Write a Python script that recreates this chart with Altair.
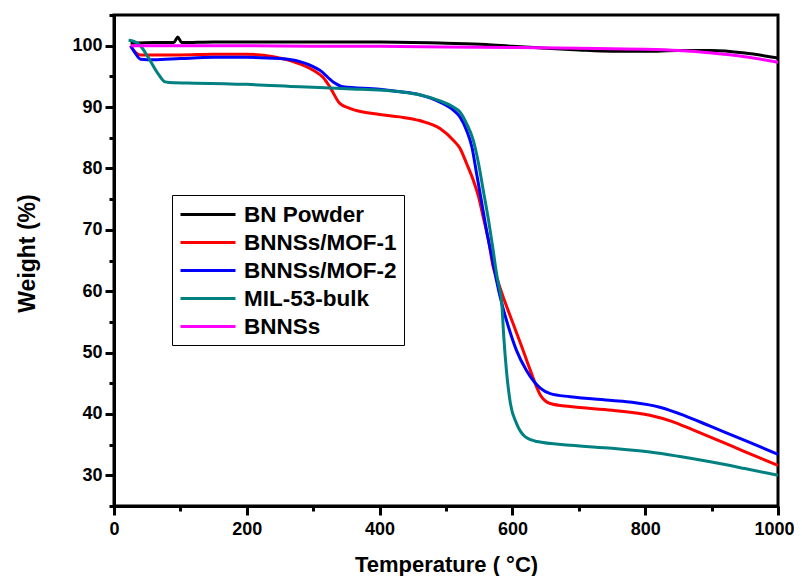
import altair as alt
import pandas as pd

series = ["BN Powder", "BNNSs/MOF-1", "BNNSs/MOF-2", "MIL-53-bulk", "BNNSs"]
colors = ["#000000", "#ff0000", "#0000ff", "#008080", "#ff00ff"]

bn_T = [25, 60, 90, 96, 102, 150, 200, 300, 400, 500, 560, 600, 650, 700, 750, 800, 850, 900, 950, 1000]
bn_W = [100.4, 100.5, 100.5, 101.4, 100.5, 100.6, 100.6, 100.6, 100.6, 100.4, 100.2, 99.9, 99.6, 99.3, 99.1, 99.1, 99.2, 99.2, 98.8, 98.0]

red_T = [25, 30, 40, 60, 100, 150, 200, 240, 270, 300, 315, 325, 340, 355, 400, 430, 460, 491, 511, 521,
         531, 541, 549, 556, 564, 571, 577, 586, 599, 614, 627, 642, 657, 687, 750, 807, 840, 872, 910, 947, 1000]
red_W = [100.0, 99.2, 98.5, 98.5, 98.5, 98.6, 98.6, 98.2, 97.4, 96.0, 94.8, 93.3, 90.6, 89.8, 88.8, 88.4, 87.8, 86.5, 84.6, 83.3,
         80.8, 78.1, 75.4, 72.1, 68.3, 64.0, 62.0, 59.1, 55.3, 51.0, 47.1, 43.1, 41.7, 41.2, 40.6, 39.8, 38.8, 37.4, 35.7, 34.0, 31.6]

blue_T = [25, 32, 40, 60, 100, 150, 200, 250, 280, 300, 310, 330, 345, 400, 431, 460, 491, 511, 521, 531,
          539, 546, 554, 561, 569, 575, 584, 594, 606, 621, 642, 657, 687, 750, 780, 822, 860, 898, 950, 1000]
blue_W = [100.0, 98.8, 97.8, 97.7, 97.9, 98.1, 98.1, 97.9, 97.4, 96.6, 96.0, 94.1, 93.3, 92.9, 92.5, 92.0, 90.8, 89.5, 88.4, 86.2,
          83.5, 79.2, 74.3, 69.9, 65.6, 62.3, 58.0, 54.2, 50.4, 47.1, 44.2, 43.3, 42.8, 42.2, 41.9, 41.1, 39.7, 38.0, 35.7, 33.4]

teal_T = [22, 30, 39, 51, 66, 77, 90, 122, 200, 280, 350, 431, 460, 491, 511, 521, 531, 541, 549, 556,
          564, 571, 577, 580, 584, 587, 591, 597, 606, 619, 637, 687, 750, 807, 850, 898, 950, 1000]
teal_W = [100.9, 100.7, 100.1, 98.2, 95.5, 94.1, 93.95, 93.9, 93.7, 93.3, 93.0, 92.5, 92.0, 91.0, 90.0, 89.2, 87.3, 84.6, 80.8, 76.5,
          71.6, 66.7, 62.3, 60.7, 58.0, 52.6, 47.1, 41.7, 38.5, 36.3, 35.5, 34.9, 34.4, 33.8, 33.1, 32.2, 31.1, 30.0]

mag_T = [25, 100, 200, 300, 400, 500, 600, 700, 750, 800, 850, 900, 950, 1000]
mag_W = [100.0, 100.0, 100.0, 99.9, 99.9, 99.8, 99.7, 99.6, 99.5, 99.4, 99.2, 98.8, 98.2, 97.3]

x_ticks = list(range(0, 1001, 100))
y_ticks = list(range(25, 106, 5))

rows = []
for name, T, W in [(series[0], bn_T, bn_W), (series[1], red_T, red_W), (series[2], blue_T, blue_W),
                   (series[3], teal_T, teal_W), (series[4], mag_T, mag_W)]:
    for t, w in zip(T, W):
        rows.append({"series": name, "T": t, "W": w})
df = pd.DataFrame(rows)

FONT = "Liberation Sans"

chart = alt.Chart(df).mark_line(strokeWidth=3, interpolate="monotone").encode(
    x=alt.X("T:Q", scale=alt.Scale(domain=[0, 1000], nice=False, zero=False),
            axis=alt.Axis(values=x_ticks, title="Temperature ( \u00b0C)", format="d",
                          labelExpr="datum.value % 200 == 0 ? datum.label : ''",
                          tickSize={"condition": {"test": "datum.value % 200 == 0", "value": 9}, "value": 5},
                          labelOffset={"condition": {"test": "datum.value == 1000", "value": -4}, "value": 0},
                          labelPadding=5, titlePadding=16, grid=False, labelFlush=False)),
    y=alt.Y("W:Q", scale=alt.Scale(domain=[25, 105], nice=False, zero=False),
            axis=alt.Axis(values=y_ticks, title="Weight (%)", format="d",
                          labelExpr="datum.value % 10 == 0 ? datum.label : ''",
                          tickSize={"condition": {"test": "datum.value % 10 == 0", "value": 9}, "value": 5},
                          labelPadding=3, titlePadding=32, titleFontSize=23, titleY=238,
                          grid=False, labelFlush=False)),
    color=alt.Color("series:N", sort=series,
                    scale=alt.Scale(domain=series, range=colors),
                    legend=alt.Legend(title=None, orient="none", legendX=58, legendY=180,
                                      symbolType="M-1,0H4", symbolSize=484, symbolStrokeWidth=3,
                                      labelFontSize=22.5, labelFont=FONT, labelColor="black",
                                      labelFontWeight="bold",
                                      rowPadding=4, padding=7, strokeColor="black", fillColor="white",
                                      labelOffset=40, labelLimit=400)),
).properties(
    width=664, height=491,
    autosize=alt.AutoSizeParams(type="none"),
    padding={"left": 106, "top": 7, "right": 16, "bottom": 70},
).configure_view(
    stroke="black", strokeWidth=3
).configure_axis(
    domainColor="black", domainWidth=3, tickColor="black", tickWidth=3,
    labelFont=FONT, labelFontWeight="bold", labelFontSize=18, labelColor="black",
    titleFont=FONT, titleFontWeight="bold", titleFontSize=22, titleColor="black"
)

chart.save("out.html", embed_options={"renderer": "svg", "actions": False})
